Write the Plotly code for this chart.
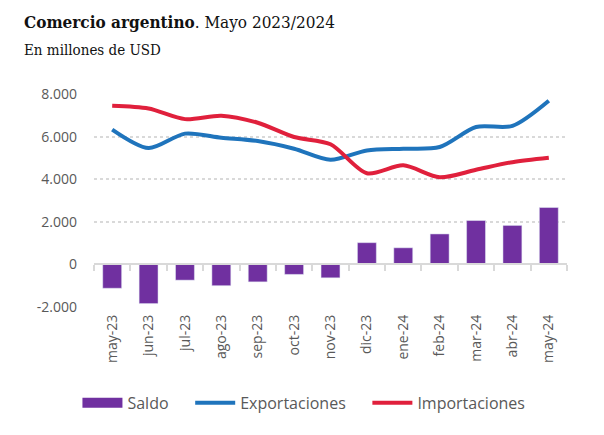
import plotly.graph_objects as go

categories = ["may-23", "jun-23", "jul-23", "ago-23", "sep-23", "oct-23", "nov-23",
              "dic-23", "ene-24", "feb-24", "mar-24", "abr-24", "may-24"]
saldo = [-1120, -1840, -740, -1000, -820, -470, -630, 1020, 780, 1430, 2060, 1830, 2670]
exportaciones = [6330, 5460, 6140, 5950, 5790, 5430, 4910, 5350, 5430, 5510, 6450, 6500, 7680]
importaciones = [7450, 7320, 6820, 6980, 6650, 5980, 5640, 4280, 4650, 4090, 4440, 4800, 5010]
y_ticks = [-2000, 0, 2000, 4000, 6000, 8000]
y_ticktext = ["-2.000", "0", "2.000", "4.000", "6.000", "8.000"]

PURPLE = "#7030A0"
BLUE = "#1F74BC"
RED = "#E0203C"
GRID = "#D9D9D9"
TXT = "#595959"
PAD = "\u00a0\u00a0\u00a0\u00a0"

fig = go.Figure()
fig.add_trace(go.Bar(x=categories, y=saldo, name="Saldo", marker_color=PURPLE,
                     width=0.52, showlegend=False))
# legend-only entry for the bar series (wide rectangle swatch)
fig.add_trace(go.Scatter(x=[categories[0]], y=[None], name="Saldo" + PAD, mode="lines",
                         line=dict(color=PURPLE, width=12), hoverinfo="skip"))
fig.add_trace(go.Scatter(x=categories, y=exportaciones, name="Exportaciones" + PAD,
                         mode="lines", line=dict(color=BLUE, width=4, shape="spline", smoothing=0.8)))
fig.add_trace(go.Scatter(x=categories, y=importaciones, name="Importaciones",
                         mode="lines", line=dict(color=RED, width=4, shape="spline", smoothing=0.8)))
# helper trace so the zero-line axis (with boundary ticks) is drawn
fig.add_trace(go.Scatter(x=categories, y=[None] * len(categories), xaxis="x2",
                         showlegend=False, hoverinfo="skip", mode="lines"))

fig.update_layout(
    width=596, height=427,
    margin=dict(l=86, r=37, t=86, b=128, autoexpand=False),
    paper_bgcolor="white", plot_bgcolor="white",
    separators=",.",
    font=dict(family="Open Sans", color=TXT, size=14),
    xaxis=dict(type="category", range=[-0.5, 12.5], showgrid=False, showline=False,
               ticks="", tickangle=-90, tickfont=dict(size=14, color=TXT),
               ticklabelstandoff=4, automargin=False),
    xaxis2=dict(type="category", overlaying="x", range=[-0.5, 12.5], anchor="free",
                position=0.2, showline=True, linecolor=GRID, linewidth=2,
                ticks="outside", tickson="boundaries", ticklen=6, tickcolor=GRID,
                tickwidth=2, showticklabels=False, showgrid=False),
    yaxis=dict(range=[-2000, 8000], tickvals=y_ticks, ticktext=y_ticktext,
               showgrid=True, gridcolor=GRID, griddash="dot", gridwidth=2,
               zeroline=False, showline=False, tickfont=dict(size=14, color=TXT),
               ticklabelstandoff=16, automargin=False),
    legend=dict(orientation="h", x=-0.035, xanchor="left", y=-0.45, yanchor="middle",
                font=dict(size=16, color=TXT), traceorder="normal",
                itemwidth=40),
    bargap=0.45,
    showlegend=True,
)

fig.add_annotation(xref="paper", yref="paper", x=-0.153, y=1.338, xanchor="left",
                   yanchor="middle", showarrow=False,
                   text="<b>Comercio argentino</b>. Mayo 2023/2024",
                   font=dict(family="DejaVu Serif Condensed", size=17, color="#111111"))
fig.add_annotation(xref="paper", yref="paper", x=-0.153, y=1.207, xanchor="left",
                   yanchor="middle", showarrow=False,
                   text="En millones de USD",
                   font=dict(family="DejaVu Serif Condensed", size=15, color="#111111"))

fig.write_html("out.html")
